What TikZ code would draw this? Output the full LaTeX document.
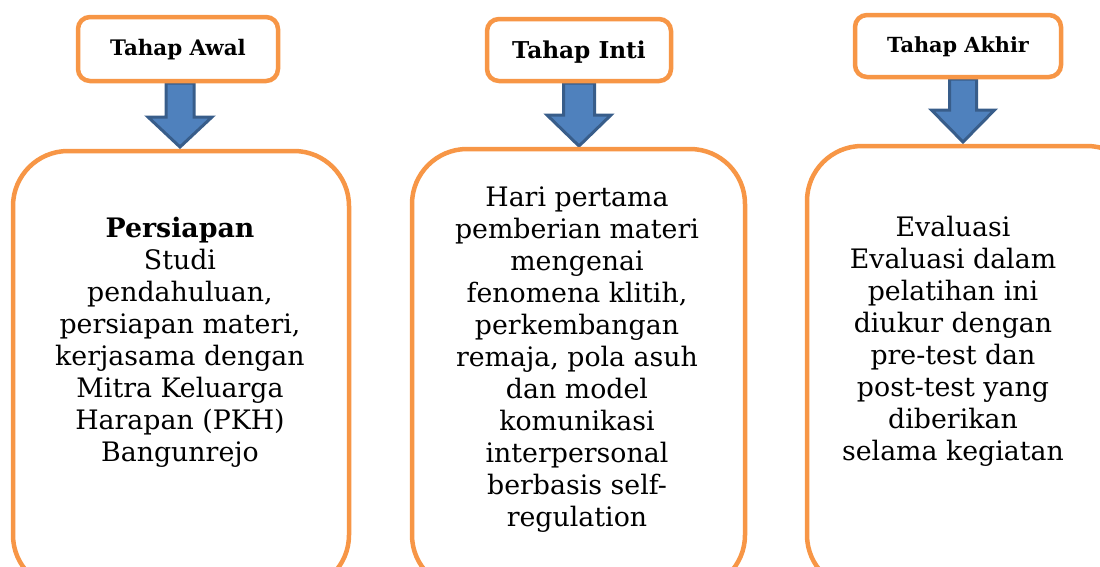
\documentclass[tikz,border=0pt]{standalone}
\usepackage{fontspec}
\setmainfont{DejaVu Serif}
\definecolor{borange}{HTML}{F79646}
\definecolor{bfill}{HTML}{4F81BD}
\definecolor{bline}{HTML}{385D8A}
\tikzset{
  headbox/.style={draw=borange, line width=4.5pt, rounded corners=12pt, fill=white},
  bigbox/.style={draw=borange, line width=4.5pt, rounded corners=55pt, fill=white},
  blockarrow/.style={draw=bline, fill=bfill, line width=3pt, line join=miter},
  bodytext/.style={align=center, inner sep=0pt, font=\fontsize{26.8}{32}\selectfont},
}
\begin{document}
\begin{tikzpicture}[x=1pt,y=-1pt]
\useasboundingbox (0,0) rectangle (1100,566);
\clip (0,0) rectangle (1100,566);
% block arrows
\draw[blockarrow] (166,83) -- (194,83) -- (194,117) -- (212,117) -- (180,147) -- (148,117) -- (166,117) -- cycle;
\draw[blockarrow] (563.5,83) -- (594.5,83) -- (594.5,115) -- (611,115) -- (579,146) -- (547,115) -- (563.5,115) -- cycle;
\draw[blockarrow] (949.5,79) -- (976.5,79) -- (976.5,110) -- (994.5,110) -- (963,142) -- (931.5,110) -- (949.5,110) -- cycle;
% header boxes
\draw[headbox] (78,17) rectangle (278,81);
\node (t1) at (178,50) {\fontsize{21.4}{25}\selectfont\bfseries Tahap Awal};
\draw[headbox] (487,19) rectangle (671,81);
\node (t2) at (579,52) {\fontsize{23.2}{27}\selectfont\bfseries Tahap Inti};
\draw[headbox] (855,15) rectangle (1061,77);
\node (t3) at (958,47) {\fontsize{20.8}{24}\selectfont\bfseries Tahap Akhir};
% big boxes
\draw[bigbox] (13,151) rectangle (349,590);
\draw[bigbox] (412,149) rectangle (745,590);
\draw[bigbox] (807,146) rectangle (1142,590);
\node[bodytext] (b1) at (180,342) {\bfseries Persiapan\\Studi\\pendahuluan,\\persiapan materi,\\kerjasama dengan\\Mitra Keluarga\\Harapan (PKH)\\Bangunrejo};
\node[bodytext] (b2) at (577,360) {Hari pertama\\pemberian materi\\mengenai\\fenomena klitih,\\perkembangan\\remaja, pola asuh\\dan model\\komunikasi\\interpersonal\\berbasis self-\\regulation};
\node[bodytext] (b3) at (953,341) {Evaluasi\\Evaluasi dalam\\pelatihan ini\\diukur dengan\\pre-test dan\\post-test yang\\diberikan\\selama kegiatan};
\end{tikzpicture}
\end{document}
